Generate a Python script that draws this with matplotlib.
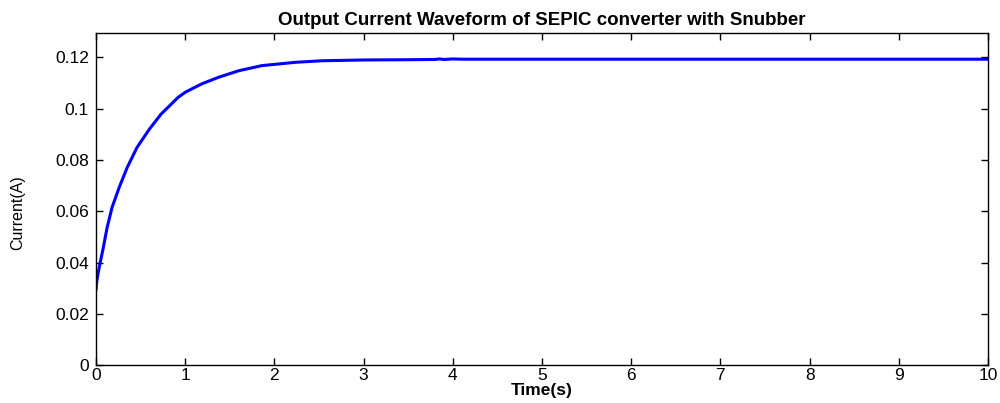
import matplotlib
matplotlib.use("Agg")
import matplotlib.pyplot as plt

# values (time in s, current in A)
time_s = [0.0, 0.0, 0.01, 0.03, 0.05, 0.08, 0.125, 0.18, 0.26, 0.35, 0.46,
          0.60, 0.73, 0.92, 1.0, 1.18, 1.37, 1.60, 1.86, 2.24, 2.54, 3.0,
          3.5, 3.8, 3.85, 3.9, 4.0, 4.1, 5.0, 6.0, 7.0, 8.0, 9.0, 10.0]
current_a = [0.0, 0.0295, 0.033, 0.037, 0.0405, 0.0455, 0.0537, 0.0615,
             0.0693, 0.0771, 0.0849, 0.0921, 0.0979, 0.1044, 0.1064, 0.1096,
             0.1122, 0.1148, 0.1168, 0.1181, 0.1187, 0.1190, 0.1191, 0.1192,
             0.1194, 0.1192, 0.1194, 0.1193, 0.1193, 0.1193, 0.1193, 0.1193,
             0.1193, 0.1193]

x_ticks = [0, 1, 2, 3, 4, 5, 6, 7, 8, 9, 10]
y_ticks = [0, 0.02, 0.04, 0.06, 0.08, 0.1, 0.12]
y_labels = ["0", "0.02", "0.04", "0.06", "0.08", "0.1", "0.12"]

plt.rcParams['font.family'] = ['Liberation Sans', 'DejaVu Sans']

fig = plt.figure(figsize=(10, 4.03), dpi=100)
ax = fig.add_axes([0.096, 0.094, 0.892, 0.824])
# thin jump at t=0, then the thicker rising trace
ax.plot(time_s[:2], current_a[:2], color='#0000ff', lw=1.2)
ax.plot(time_s[1:], current_a[1:], color='#0000ff', lw=2.2)

ax.set_xlim(0, 10)
ax.set_ylim(0, 0.1295)
ax.set_xticks(x_ticks)
ax.set_xticklabels([str(v) for v in x_ticks])
ax.set_yticks(y_ticks)
ax.set_yticklabels(y_labels)
ax.tick_params(direction='in', top=True, right=True, length=5, width=1,
               labelsize=12.5, colors='black')
ax.tick_params(axis='x', pad=2)
ax.tick_params(axis='y', pad=5)
for s in ax.spines.values():
    s.set_linewidth(1.0)

ax.set_title("Output Current Waveform of SEPIC converter with Snubber",
             fontsize=13.5, fontweight='bold', pad=6)
ax.set_xlabel("Time(s)", fontsize=12.5, fontweight='bold', labelpad=0)
ax.set_ylabel("Current(A)", fontsize=11.5)
ax.yaxis.set_label_coords(-0.079, 0.46)

fig.savefig("out.png", dpi=100)
